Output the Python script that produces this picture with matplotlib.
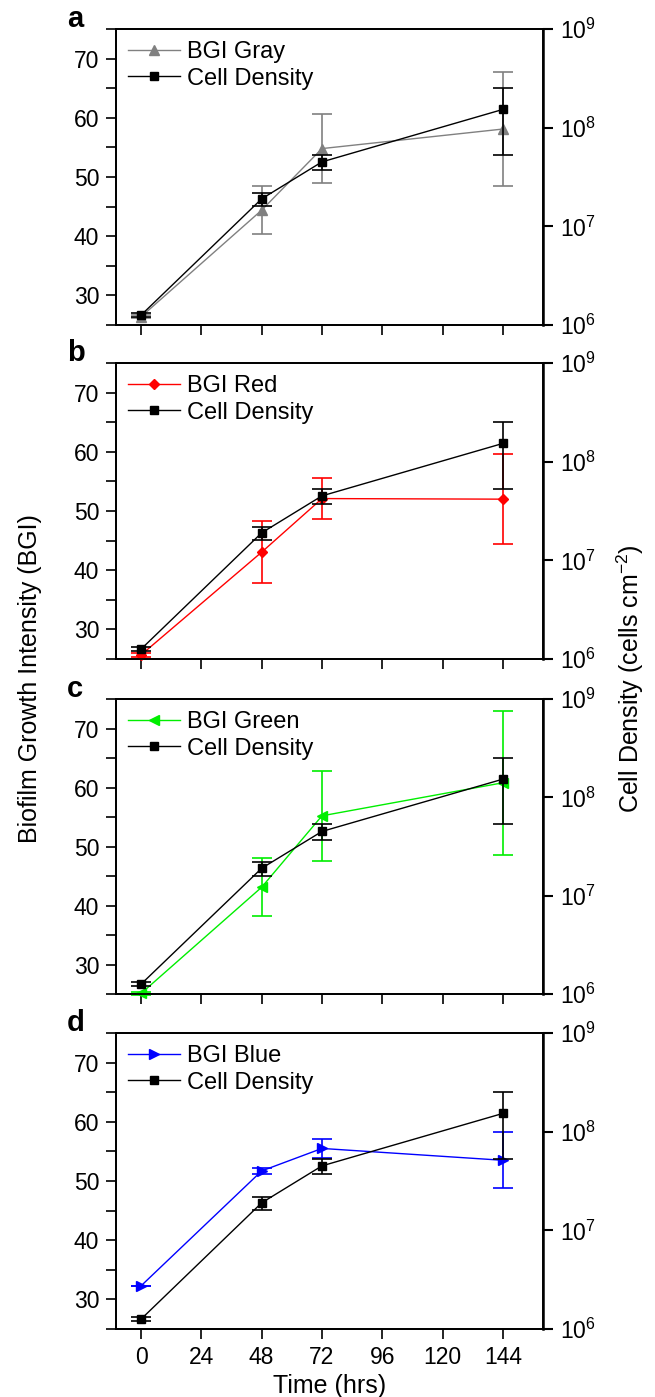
import numpy as np
import matplotlib.pyplot as plt
from matplotlib.ticker import MultipleLocator, LogLocator, NullLocator

plt.rcParams['font.family'] = ['Liberation Sans', 'DejaVu Sans']
plt.rcParams['mathtext.fontset'] = 'custom'
plt.rcParams['mathtext.rm'] = 'Liberation Sans'

# sampling times (hrs)
time = [0, 48, 72, 144]

# cell density (cells cm^-2), same in every panel
cell_mean = [1.26e6, 1.9e7, 4.5e7, 1.53e8]
cell_err = [5e4, 3.0e6, 8.0e6, 1.0e8]

# biofilm growth intensity per colour channel
gray_mean = [26.4, 44.4, 54.8, 58.1]
gray_err = [0.3, 4.1, 5.85, 9.6]
red_mean = [25.7, 43.05, 52.1, 52.0]
red_err = [0.3, 5.25, 3.45, 7.65]
green_mean = [25.1, 43.1, 55.2, 60.8]
green_err = [0.2, 4.9, 7.6, 12.2]
blue_mean = [32.3, 51.7, 55.5, 53.5]
blue_err = [0.0, 0.45, 1.6, 4.7]

panels = [
    ('a', 'BGI Gray', gray_mean, gray_err, '#808080', '^'),
    ('b', 'BGI Red', red_mean, red_err, '#ff0000', 'D'),
    ('c', 'BGI Green', green_mean, green_err, '#00ee00', '<'),
    ('d', 'BGI Blue', blue_mean, blue_err, '#0000ff', '>'),
]
msize = {'^': 7, 'D': 5.5, '<': 7, '>': 7}

W, H = 655, 1397
fig = plt.figure(figsize=(W / 100, H / 100), dpi=100)
boxes = [(29, 325), (363, 659), (699, 994), (1033, 1329)]
x0, x1 = 116, 543

for i, (lab, name, m, e, col, mk) in enumerate(panels):
    top, bot = boxes[i]
    ax = fig.add_axes([x0 / W, 1 - bot / H, (x1 - x0) / W, (bot - top) / H])
    ax2 = ax.twinx()

    eb = ax.errorbar(time, m, yerr=e, color=col, marker=mk, ms=msize[mk],
                     lw=1.0, elinewidth=1.2, capsize=7, capthick=1.2,
                     zorder=3, clip_on=False)
    ec = ax2.errorbar(time, cell_mean, yerr=cell_err, color='black', marker='s',
                      ms=5.5, lw=1.0, elinewidth=1.2, capsize=7, capthick=1.2,
                      zorder=3)

    ax.set_xlim(-10, 160)
    ax.set_ylim(25, 75)
    ax.yaxis.set_major_locator(MultipleLocator(10))
    ax.yaxis.set_minor_locator(MultipleLocator(5))
    ax.set_yticks([30, 40, 50, 60, 70])
    ax.xaxis.set_major_locator(MultipleLocator(24))
    ax.tick_params(axis='y', which='both', direction='out', length=7, width=1.2,
                   labelsize=16.5, pad=5)
    ax.tick_params(axis='x', direction='out', length=7, width=1.2,
                   labelsize=16.5, pad=5, labelbottom=(i == 3))
    for s in ax.spines.values():
        s.set_linewidth(1.3)

    ax2.set_yscale('log')
    ax2.set_ylim(1e6, 1e9)
    ax2.yaxis.set_major_locator(LogLocator(base=10, numticks=10))
    ax2.yaxis.set_minor_locator(NullLocator())
    ax2.tick_params(axis='y', direction='out', length=7, width=1.5,
                    labelsize=16.5, pad=5)
    for s in ax2.spines.values():
        s.set_linewidth(1.3)
    ax2.spines['right'].set_linewidth(1.8)

    ax2.legend([eb[0], ec[0]], [name, 'Cell Density'], loc='upper left',
               frameon=False, fontsize=17, handlelength=2.2,
               handletextpad=0.3, labelspacing=0.2, borderaxespad=0.2,
               borderpad=0.3)

    ax.text(-0.115, 1.008, lab, transform=ax.transAxes, fontsize=21,
            fontweight='bold', va='baseline', ha='left')

    if i == 3:
        ax.set_xlabel('Time (hrs)', fontsize=18, labelpad=4)

fig.text(30 / W, 1 - 679 / H, 'Biofilm Growth Intensity (BGI)', rotation=90,
         fontsize=18, ha='center', va='center')
fig.text(630 / W, 1 - 679 / H, r'Cell Density (cells cm$^{-2}$)', rotation=90,
         fontsize=18, ha='center', va='center')

fig.savefig('out.png', dpi=100)
